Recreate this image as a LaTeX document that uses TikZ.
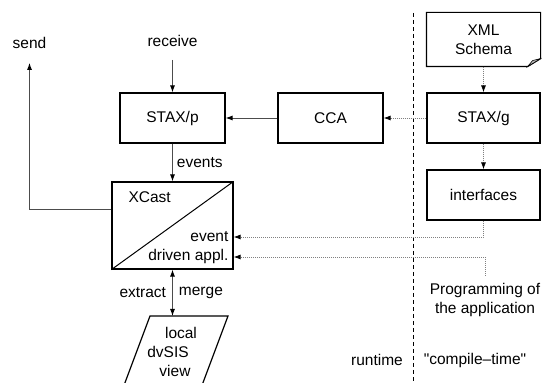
\documentclass[tikz,border=0pt]{standalone}
\usepackage{fontspec}
\setmainfont{Liberation Sans}
\usetikzlibrary{
    positioning,
    arrows.meta
    }

\begin{document}
\begin{tikzpicture}[x=1pt, y=1pt, font=\fontsize{15.5}{18.6}\selectfont]
\tikzset{box/.style =
        {
            draw,
            line width=1.2pt,
            minimum width=105pt,
            minimum height=50pt,
            inner sep=0pt
        }
}

\tikzset{wide box/.style =
        {
            box,
            minimum width=113pt
        }
}

\tikzset{lbl/.style = { inner sep=0pt, text=black } }

\tikzset{flow/.style = {
            line width=0.9pt,
            black!70,
            -{Latex[length=7pt, width=5pt, black]}
        }
}

\tikzset{both/.style = {
            flow,
            {Latex[length=7pt, width=5pt, black]}-{Latex[length=7pt, width=5pt, black]}
        }
}

\tikzset{dep/.style = {
            flow,
            gray,
            line width=0.8pt,
            dash pattern=on 1pt off 1pt
        }
}

\tikzset{divider/.style = {
            line width=1pt,
            dash pattern=on 4pt off 3pt
        }
}
		\clip (0,0) rectangle (542,383);

		\node[box] (stax-p) at (172.5,265) {STAX/p};
		\node[box] (cca) at (330.5,265) {CCA};
		\node[wide box] (stax-g) at (483.5,265) {STAX/g};
		\node[wide box, draw=none, minimum height=53pt, align=center] (schema) at (483.5,343.5) {XML\\Schema};
		\node[wide box] (interfaces) at (483.5,188) {interfaces};
		\node[box, minimum width=121pt, minimum height=87pt] (xcast) at (172.5,157.5) {};

		\node[lbl, below right=10pt and 17pt of xcast.north west] (xcast-name) {XCast};
		\node[lbl, align=right, above left=6pt and 5pt of xcast.south east] (appl) {event\\driven appl.};

		\node[lbl] (receive) at (172.5,342) {receive};
		\node[lbl] (send) at (29.5,340) {send};
		\node[lbl, align=center] (prog) [anchor=north] at (485,100) {Programming of\\the application};
		\node[lbl] (runtime) at (377,23) {runtime};
		\node[lbl] (compile) at (475,23) {\textquotedbl compile--time\textquotedbl};
		\node[lbl, align=center] (view) at (168,31) {\hspace*{26pt}local\\dvSIS\\\hspace*{14pt}view};
		\coordinate (view-top) at (172.5,67);

		% document with folded corner
		\draw[line width=1.2pt] (schema.north west) -- (schema.north east) -- ([yshift=8pt]schema.south east)
			-- ([xshift=-13pt]schema.south east) -- (schema.south west) -- cycle;
		\draw[line width=0.6pt, fill=gray!50] ([xshift=-13pt]schema.south east) -- ([yshift=8pt]schema.south east)
			-- ([xshift=-8pt, yshift=6pt]schema.south east) -- cycle;

		\draw[line width=1pt] (xcast.south west) -- (xcast.north east);
		\draw[line width=1.2pt] (150,67) -- (228,67) -- (201,-5) -- (123,-5) -- cycle;
		\draw[divider] (413,370) -- (413,0);

		\draw[flow] ([yshift=-13pt]receive.south) -- (stax-p);
		\draw[flow] ([yshift=16.5pt]xcast.west) -| ([yshift=-14pt]send.south);
		\draw[flow] (stax-p) -- node[lbl, right=4pt] (events) {events} (xcast);
		\draw[flow] (cca) -- (stax-p);
		\draw[both] (xcast) -- node[lbl, left=6pt] (extract) {extract} node[lbl, right=6pt] (merge) {merge} (view-top);

		\draw[dep] (schema) -- (stax-g);
		\draw[dep] (stax-g) -- (cca);
		\draw[dep] (stax-g) -- (interfaces);
		\draw[dep] (interfaces.south) |- ([yshift=-11.5pt]xcast.east);
		\draw[dep] ([yshift=7pt]prog.north) |- ([yshift=-31.5pt]xcast.east);

	\end{tikzpicture}
\end{document}
